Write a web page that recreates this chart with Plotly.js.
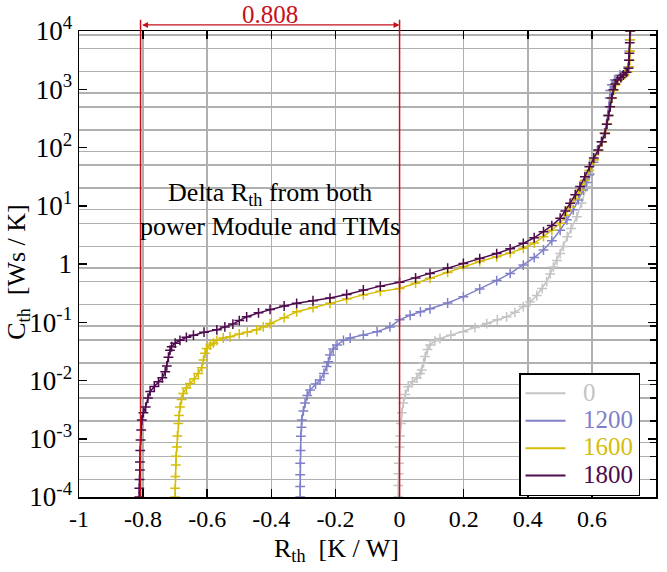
<!DOCTYPE html>
<html>
<head>
<meta charset="utf-8">
<script src="https://cdn.plot.ly/plotly-3.0.1.min.js"></script>
<style>
  html, body { margin: 0; padding: 0; background: #fff; }
  #chart { width: 667px; height: 572px; }
</style>
</head>
<body>
<div id="chart"></div>
<script>
// Cumulative thermal structure functions: Cth over Rth for four operating points.

const seriesNames = ['0', '1200', '1600', '1800'];

// Series "0"
const r0 = [-0.004, -0.004, -0.003, -0.002, 0.000, 0.002, 0.004, 0.007, 0.012, 0.018, 0.027, 0.040,
  0.054, 0.064, 0.069, 0.075, 0.080, 0.087, 0.095, 0.110, 0.126, 0.160, 0.199, 0.235, 0.272, 0.305,
  0.334, 0.360, 0.386, 0.407, 0.428, 0.445, 0.459, 0.470, 0.480, 0.491, 0.501, 0.511, 0.523, 0.535,
  0.553, 0.568, 0.584, 0.594, 0.605, 0.616, 0.628, 0.638, 0.645, 0.649, 0.653, 0.655, 0.657, 0.662,
  0.670, 0.686, 0.703, 0.713, 0.716, 0.717, 0.718, 0.719];
const c0 = [1.0e-4, 1.58e-4, 2.5e-4, 3.8e-4, 7.2e-4, 1.12e-3, 1.82e-3, 2.8e-3, 4.1e-3, 5.75e-3, 7.8e-3, 9.5e-3,
  0.011, 0.0132, 0.0151, 0.020, 0.0257, 0.0339, 0.0407, 0.0479, 0.0525, 0.060, 0.069, 0.081, 0.095, 0.11,
  0.124, 0.148, 0.186, 0.224, 0.288, 0.38, 0.50, 0.676, 0.89, 1.15, 1.51, 2.0, 2.95, 4.07,
  6.46, 11.2, 21.4, 36.3, 60.3, 89, 126, 178, 251, 355, 501, 708, 955, 1200,
  1445, 1738, 1995, 2400, 3160, 4470, 7080, 10000];

// Series "1200"
const r1200 = [-0.310, -0.310, -0.310, -0.310, -0.309, -0.308, -0.306, -0.305, -0.300, -0.295, -0.288, -0.279,
  -0.262, -0.248, -0.236, -0.227, -0.222, -0.217, -0.207, -0.195, -0.175, -0.154, -0.113, -0.070, -0.030,
  0.000, 0.033, 0.065, 0.095, 0.150, 0.199, 0.250, 0.303, 0.345, 0.386, 0.420, 0.449, 0.475, 0.501,
  0.522, 0.542, 0.558, 0.573, 0.583, 0.592, 0.605, 0.618, 0.630, 0.640, 0.646, 0.650, 0.654, 0.656,
  0.658, 0.663, 0.672, 0.688, 0.705, 0.714, 0.716, 0.717, 0.718, 0.719];
const c1200 = [1.0e-4, 1.51e-4, 2.4e-4, 3.8e-4, 6.3e-4, 1.1e-3, 1.58e-3, 2.1e-3, 3.0e-3, 4.1e-3, 5.5e-3, 6.9e-3,
  8.7e-3, 0.0102, 0.0132, 0.0174, 0.0209, 0.0275, 0.0347, 0.0407, 0.049, 0.0537, 0.060, 0.069, 0.083,
  0.11, 0.132, 0.151, 0.17, 0.214, 0.275, 0.372, 0.519, 0.69, 0.96, 1.29, 1.74, 2.51, 3.8,
  5.75, 8.5, 12.6, 18.6, 25.1, 33.9, 56, 89, 126, 178, 251, 355, 501, 708,
  955, 1200, 1445, 1738, 1995, 2400, 3160, 4470, 7080, 10000];

// Series "1600"
const r1600 = [-0.700, -0.700, -0.699, -0.698, -0.697, -0.695, -0.693, -0.690, -0.688, -0.685, -0.680, -0.675,
  -0.665, -0.654, -0.640, -0.628, -0.617, -0.612, -0.607, -0.602, -0.590, -0.581, -0.570, -0.550, -0.529,
  -0.500, -0.475, -0.446, -0.425, -0.404, -0.360, -0.321, -0.270, -0.217, -0.165, -0.113, -0.060, 0.000,
  0.050, 0.095, 0.150, 0.199, 0.250, 0.303, 0.345, 0.386, 0.420, 0.449, 0.475, 0.501, 0.517, 0.532,
  0.548, 0.563, 0.578, 0.592, 0.607, 0.621, 0.632, 0.642, 0.648, 0.653, 0.658, 0.663, 0.668, 0.674,
  0.681, 0.692, 0.702, 0.712, 0.717, 0.718, 0.719, 0.720, 0.721];
const c1600 = [1.0e-4, 1.41e-4, 2.24e-4, 3.55e-4, 5.0e-4, 7.2e-4, 1.12e-3, 1.82e-3, 2.5e-3, 3.5e-3, 4.7e-3, 6.0e-3,
  7.4e-3, 8.9e-3, 0.0107, 0.0132, 0.0166, 0.0224, 0.0295, 0.0355, 0.0407, 0.0437, 0.049, 0.0537, 0.0562,
  0.063, 0.0676, 0.074, 0.083, 0.095, 0.12, 0.151, 0.178, 0.211, 0.251, 0.295, 0.339, 0.38,
  0.468, 0.569, 0.716, 0.90, 1.10, 1.33, 1.55, 1.86, 2.29, 2.95, 3.8, 5.0, 6.9, 9.5,
  13.2, 18.6, 27.5, 40.7, 61.7, 89, 126, 178, 251, 355, 501, 708, 955, 1200,
  1410, 1585, 1778, 1995, 2400, 3160, 4470, 7080, 10000];

// Series "1800"
const r1800 = [-0.812, -0.812, -0.811, -0.810, -0.810, -0.809, -0.808, -0.806, -0.804, -0.799, -0.792, -0.785,
  -0.778, -0.765, -0.752, -0.740, -0.731, -0.726, -0.721, -0.716, -0.711, -0.700, -0.685, -0.665, -0.643,
  -0.610, -0.570, -0.545, -0.520, -0.500, -0.477, -0.440, -0.404, -0.360, -0.321, -0.270, -0.217, -0.165,
  -0.113, -0.060, 0.000, 0.050, 0.095, 0.150, 0.199, 0.250, 0.303, 0.345, 0.386, 0.420, 0.449, 0.475,
  0.501, 0.517, 0.532, 0.548, 0.563, 0.578, 0.592, 0.606, 0.620, 0.631, 0.641, 0.647, 0.652, 0.657,
  0.662, 0.667, 0.673, 0.680, 0.690, 0.698, 0.708, 0.714, 0.716, 0.717, 0.718, 0.719];
const c1800 = [1.0e-4, 1.41e-4, 2.0e-4, 2.9e-4, 4.0e-4, 6.3e-4, 9.5e-4, 1.41e-3, 2.1e-3, 2.8e-3, 3.5e-3, 5.0e-3,
  6.5e-3, 7.9e-3, 9.5e-3, 0.0112, 0.0141, 0.0178, 0.0251, 0.0331, 0.038, 0.0437, 0.049, 0.055, 0.060,
  0.0676, 0.074, 0.083, 0.093, 0.107, 0.124, 0.145, 0.166, 0.19, 0.211, 0.234, 0.26, 0.30,
  0.358, 0.417, 0.484, 0.575, 0.69, 0.85, 1.02, 1.24, 1.51, 1.82, 2.26, 2.82, 3.59, 4.57,
  6.1, 8.1, 11.0, 15.5, 21.4, 31.6, 46.8, 66, 91, 126, 174, 251, 355, 501,
  708, 977, 1230, 1445, 1585, 1758, 1950, 2290, 3160, 4170, 6310, 10000];

const rValues = [r0, r1200, r1600, r1800];
const cValues = [c0, c1200, c1600, c1800];
const seriesColors = ['#c4c4c4', '#8080c8', '#d4be0a', '#4e0b4e'];

// Axis ticks
const xTicks = [-1, -0.8, -0.6, -0.4, -0.2, 0, 0.2, 0.4, 0.6, 0.8];
const xTickText = ['-1', '-0.8', '-0.6', '-0.4', '-0.2', '0', '0.2', '0.4', '0.6', '0.8'];
const yExponents = [-4, -3, -2, -1, 0, 1, 2, 3, 4];
const gridFactors = [2, 5, 8.6];

// Rth step between the 1800 curve and the reference curve
const deltaR = 0.808;

const FONT = 'Liberation Serif';
const RED = '#c8101a';

const traces = [];
rValues.forEach((r, i) => {
  traces.push({
    x: r, y: cValues[i], type: 'scatter', mode: 'lines+markers',
    line: { color: seriesColors[i], width: 1.5 },
    marker: { symbol: 'cross-thin-open', size: 7, line: { width: 1.5, color: seriesColors[i] } },
    showlegend: false, hoverinfo: 'skip'
  });
});
// Line-only legend entries
seriesNames.forEach((name, i) => {
  traces.push({
    x: [null], y: [null], type: 'scatter', mode: 'lines', yaxis: 'y2',
    line: { color: seriesColors[i], width: 2 },
    name: '<span style="color:' + seriesColors[i] + ';font-size:25px">&nbsp;&nbsp;' + name + '</span>',
    showlegend: true
  });
});

const gridVals = [];
yExponents.slice(0, -1).forEach(k => gridFactors.forEach(f => gridVals.push(f * Math.pow(10, k))));

const layout = {
  width: 667, height: 572,
  margin: { l: 79, r: 11, t: 31, b: 75 },
  paper_bgcolor: '#fff', plot_bgcolor: '#fff',
  font: { family: FONT, size: 22, color: '#000' },
  showlegend: true,
  xaxis: {
    range: [-1, 0.8], tickmode: 'array', tickvals: xTicks, ticktext: xTickText,
    ticks: 'inside', ticklen: 8, tickwidth: 1.5, tickcolor: '#000',
    showline: true, linecolor: '#000', linewidth: 1.5, mirror: 'ticks',
    showgrid: true, gridcolor: '#b0b0b0', gridwidth: 1.5, zeroline: false,
    tickfont: { family: FONT, size: 24, color: '#000' }
  },
  yaxis: {
    type: 'log', range: [-4, 4], tickmode: 'array',
    tickvals: yExponents.map(k => Math.pow(10, k)),
    ticktext: yExponents.map(k => k === 0 ? '1' : '10<sup>' + k + '</sup>'),
    ticks: 'inside', ticklen: 8, tickwidth: 1.5, tickcolor: '#000',
    showline: true, linecolor: '#000', linewidth: 1.5, mirror: 'ticks',
    showgrid: false, zeroline: false,
    tickfont: { family: FONT, size: 27, color: '#000' }
  },
  yaxis2: {
    type: 'log', range: [-4, 4], overlaying: 'y', side: 'right', tickmode: 'array',
    tickvals: gridVals, ticks: 'inside', ticklen: 6, tickwidth: 1.5, tickcolor: '#000',
    showticklabels: false, showgrid: true, gridcolor: '#b0b0b0', gridwidth: 1.5,
    showline: false, zeroline: false
  },
  legend: {
    x: 0.7626, y: 0.266, xanchor: 'left', yanchor: 'top',
    bgcolor: '#fff', bordercolor: '#000', borderwidth: 1.5, itemwidth: 40,
    font: { family: FONT, size: 18.8, color: '#000' }, tracegroupgap: 0
  },
  shapes: [0, -deltaR].map(xv => ({
    type: 'line', xref: 'x', yref: 'paper', x0: xv, x1: xv, y0: 0, y1: 1.024,
    line: { color: RED, width: 1.5 }, layer: 'above'
  })),
  annotations: [
    {
      xref: 'x', yref: 'paper', x: 0, y: 1.013, ax: -deltaR, axref: 'x', ay: 0, ayref: 'pixel',
      text: '', showarrow: true, arrowside: 'end+start', arrowhead: 2, arrowsize: 1,
      arrowwidth: 1.2, arrowcolor: RED, standoff: 0, startstandoff: 0
    },
    {
      xref: 'x', yref: 'paper', x: -deltaR / 2, y: 1.036, xanchor: 'center', yanchor: 'middle',
      text: deltaR.toFixed(3), showarrow: false, font: { family: FONT, size: 25, color: RED }
    },
    {
      xref: 'x', yref: 'paper', x: -deltaR / 2, y: 0.616, xanchor: 'center', yanchor: 'middle',
      text: 'Delta R<sub>th</sub> from both<br>power Module and TIMs', showarrow: false,
      font: { family: FONT, size: 26, color: '#000' }
    },
    {
      xref: 'paper', yref: 'paper', x: 0.447, y: -0.114, xanchor: 'center', yanchor: 'middle',
      text: 'R<sub>th</sub>  [K / W]', showarrow: false, font: { family: FONT, size: 26, color: '#000' }
    },
    {
      xref: 'paper', yref: 'paper', x: -0.106, y: 0.483, xanchor: 'center', yanchor: 'middle',
      textangle: -90,
      text: 'C<sub>th</sub>  [Ws / K]', showarrow: false, font: { family: FONT, size: 26, color: '#000' }
    }
  ]
};

Plotly.newPlot('chart', traces, layout, { staticPlot: true });
</script>
</body>
</html>
